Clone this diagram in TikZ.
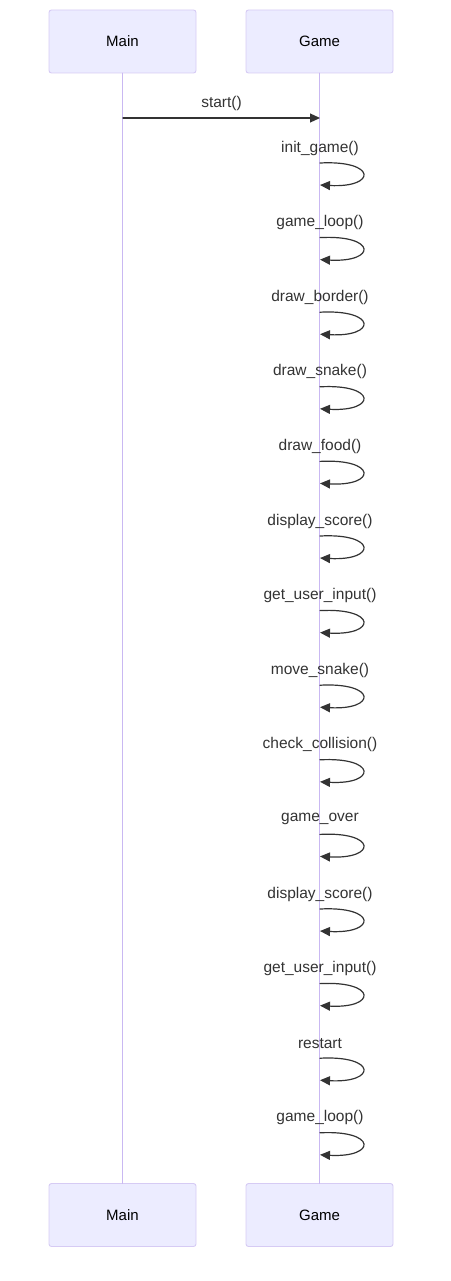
\documentclass[tikz,border=0pt]{standalone}
\usepackage{fontspec}
\setmainfont{Liberation Sans}
\usepackage{xcolor}
\usetikzlibrary{arrows.meta,positioning,calc}
\definecolor{actorfill}{HTML}{ECECFF}
\definecolor{actorline}{HTML}{D6CBF4}
\definecolor{lifeline}{HTML}{C9B8F2}
\definecolor{ink}{HTML}{333333}
\tikzset{
    every picture/.style={line cap=round,line join=round},
    actorbox/.style={draw=actorline,fill=actorfill,line width=0.9pt,rounded corners=2.5pt,
      minimum width=147pt,minimum height=63pt,inner sep=0pt,
      font=\fontsize{15}{17}\selectfont,text=black},
    lifelinestyle/.style={draw=lifeline,line width=1.8pt},
    msgarrow/.style={-{Triangle[length=10pt,width=9pt]},draw=ink,fill=ink,line width=1.2pt},
    msglabel/.style={font=\fontsize{15.5}{17}\selectfont,text=ink,inner sep=0pt}
}
\begin{document}
\begin{tikzpicture}[x=1pt,y=-1pt]
    \useasboundingbox (0,0) rectangle (450,1281);

    \node[actorbox] (maintop) at (122.5,41.5) {Main};
    \node[actorbox] (gametop) at (319.5,41.5) {Game};
    \node[actorbox] (mainbot) at (122.5,1215) {Main};
    \node[actorbox] (gamebot) at (319.5,1215) {Game};
    \draw[lifelinestyle] (maintop.south)--(mainbot.north);
    \draw[lifelinestyle] (gametop.south)--(gamebot.north);

    \coordinate (startfrom) at (123,118);
    \coordinate (startto) at (320,118);
    \draw[msgarrow] (startfrom)--(startto);
    \node[msglabel] (startlabel) at (221.5,103) {start()};

    \foreach \txt [count=\i] in {init\_game(),game\_loop(),draw\_border(),draw\_snake(),
        draw\_food(),display\_score(),get\_user\_input(),move\_snake(),check\_collision(),
        game\_over,display\_score(),get\_user\_input(),restart,game\_loop()}{
        \pgfmathsetmacro{\ly}{148+74.6*(\i-1)}
        \node[msglabel] (msg\i) at (320,\ly) {\txt};
        \coordinate (loopa\i) at (320,\ly+15);
        \coordinate (loopb\i) at (320,\ly+37);
        \draw[msgarrow,fill=none] (loopa\i) .. controls ($(loopa\i)+(57,-3)$) and ($(loopb\i)+(57,3)$) .. (loopb\i);
    }
\end{tikzpicture}
\end{document}
